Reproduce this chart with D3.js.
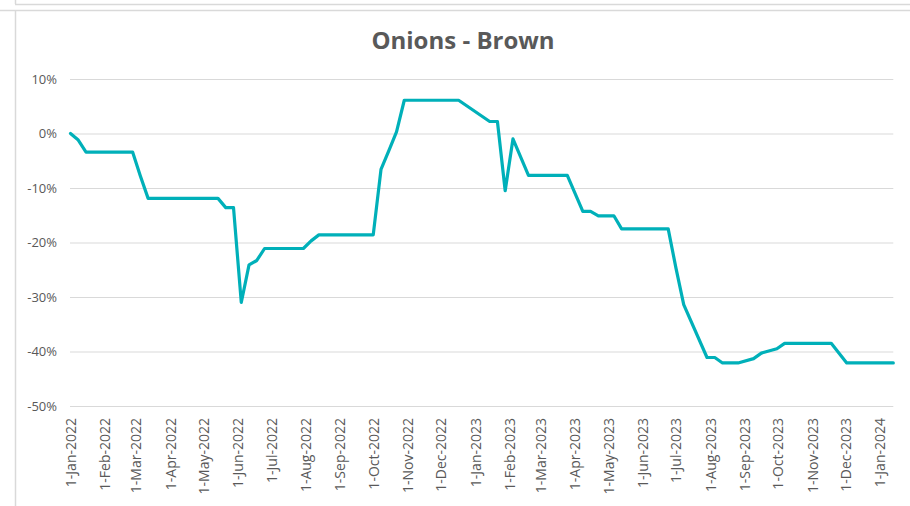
<!DOCTYPE html>
<html>
<head>
<meta charset="utf-8">
<script src="https://cdn.jsdelivr.net/npm/d3@7"></script>
<style>
  html, body { margin: 0; padding: 0; background: #fff; }
  svg { display: block; }
  text { font-family: "Open Sans", "Noto Sans", sans-serif; }
</style>
</head>
<body>
<svg id="chart" width="910" height="506"></svg>
<script>
// ---- data (weekly series; vertices) ----
const title = "Onions - Brown";
const dates = [
  "2022-01-01","2022-01-08","2022-01-15","2022-02-26","2022-03-05","2022-03-12",
  "2022-05-14","2022-05-21","2022-05-28","2022-06-04","2022-06-11","2022-06-18",
  "2022-06-25","2022-07-30","2022-08-06","2022-08-13","2022-10-01","2022-10-08",
  "2022-10-15","2022-10-22","2022-10-29","2022-12-17","2023-01-14","2023-01-21",
  "2023-01-28","2023-02-04","2023-02-18","2023-03-25","2023-04-08","2023-04-15",
  "2023-04-22","2023-05-06","2023-05-13","2023-06-24","2023-07-01","2023-07-08",
  "2023-07-29","2023-08-05","2023-08-12","2023-08-26","2023-09-09","2023-09-16",
  "2023-09-30","2023-10-07","2023-11-18","2023-12-02","2024-01-13"
];
const values = [
  0, -1.2, -3.4, -3.4, -7.8, -11.9,
  -11.9, -13.6, -13.6, -31.0, -24.1, -23.3,
  -21.1, -21.1, -19.7, -18.6, -18.6, -6.6,
  -3.2, 0.3, 6.1, 6.1, 2.2, 2.2,
  -10.5, -1.0, -7.7, -7.7, -14.3, -14.3,
  -15.1, -15.1, -17.5, -17.5, -24.7, -31.4,
  -41.1, -41.1, -42.1, -42.1, -41.3, -40.3,
  -39.5, -38.5, -38.5, -42.1, -42.1
];
const yTicks = [10, 0, -10, -20, -30, -40, -50];
const xStart = "2022-01-01";
const xEnd = "2024-01-01";

// ---- drawing ----
const parse = d3.utcParse("%Y-%m-%d");
const data = dates.map((d, i) => ({ date: parse(d), value: values[i] }));

const svg = d3.select("#chart");
const frame = "#d9d9d9";

// window frame artefacts
svg.append("line").attr("x1", 15).attr("x2", 910).attr("y1", 4.5).attr("y2", 4.5).attr("stroke", frame).attr("stroke-width", 1.5);
svg.append("line").attr("x1", 15.5).attr("x2", 15.5).attr("y1", 0).attr("y2", 4).attr("stroke", frame).attr("stroke-width", 1.5);
svg.append("line").attr("x1", 0).attr("x2", 910).attr("y1", 10.5).attr("y2", 10.5).attr("stroke", frame).attr("stroke-width", 1.5);
svg.append("line").attr("x1", 15.5).attr("x2", 15.5).attr("y1", 10).attr("y2", 506).attr("stroke", frame).attr("stroke-width", 1.5);

const x = d3.scaleUtc()
  .domain([parse(xStart), parse(xEnd)])
  .range([70.5, 880]);
const y = d3.scaleLinear()
  .domain([-50, 10])
  .range([406, 79]);

const gridRight = x(data[data.length - 1].date);

// gridlines + y labels
const yAxis = d3.axisLeft(y)
  .tickValues(yTicks)
  .tickSize(-(gridRight - 70))
  .tickPadding(13)
  .tickFormat(d => d + "%");
const gy = svg.append("g").attr("transform", "translate(70,0)").call(yAxis);
gy.select(".domain").remove();
gy.selectAll(".tick line").attr("stroke", "#d9d9d9").attr("stroke-width", 1);
gy.selectAll(".tick text")
  .attr("fill", "#595959")
  .style("font-size", "13px");

// x axis labels
const xAxis = d3.axisBottom(x)
  .ticks(d3.utcMonth.every(1))
  .tickSize(0)
  .tickFormat(d3.utcFormat("%-d-%b-%Y"));
const gx = svg.append("g").attr("transform", "translate(0,406)").call(xAxis);
gx.select(".domain").remove();
gx.selectAll(".tick text")
  .attr("fill", "#595959")
  .style("font-size", "14px")
  .attr("text-anchor", "end")
  .attr("transform", "rotate(-90)")
  .attr("x", -12)
  .attr("y", 0)
  .attr("dy", "0.35em");

// line
const line = d3.line()
  .x(d => x(d.date))
  .y(d => y(d.value));
svg.append("path")
  .datum(data)
  .attr("d", line)
  .attr("fill", "none")
  .attr("stroke", "#00b0b9")
  .attr("stroke-width", 3.2)
  .attr("stroke-linejoin", "round")
  .attr("stroke-linecap", "round");

// title
svg.append("text")
  .attr("x", 463)
  .attr("y", 48.5)
  .attr("text-anchor", "middle")
  .attr("fill", "#595959")
  .style("font-size", "24px")
  .style("font-weight", "700")
  .text(title);
</script>
</body>
</html>
